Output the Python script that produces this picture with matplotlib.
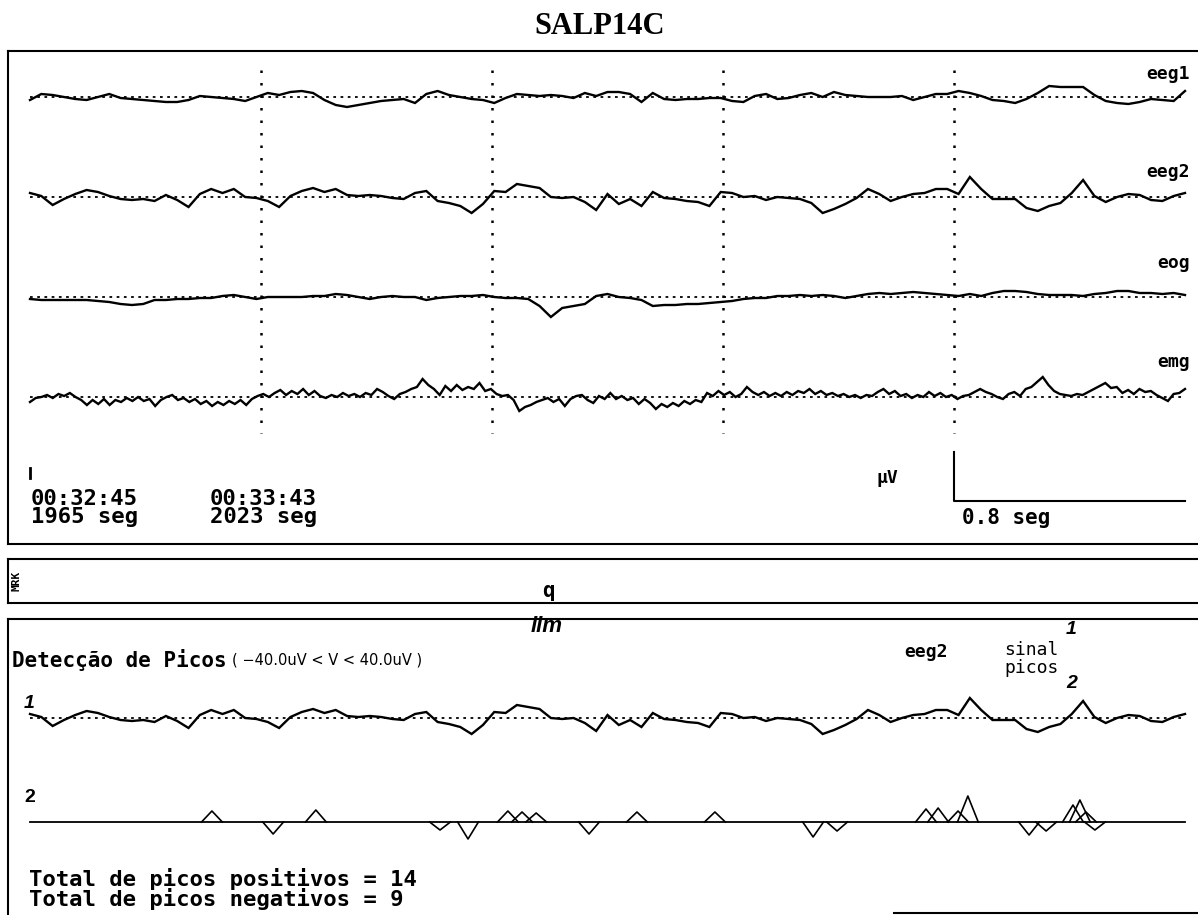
import matplotlib
matplotlib.use("Agg")
import matplotlib.pyplot as plt
import numpy as np

W, H = 1198, 915

# ---- data (amplitudes in uV, uniform sampling over the page) ----
eeg1 = [-3, 3, 2, 0, -2, -3, 0, 3, -1, -2, -3, -4, -5, -5, -3, 1, 0, -1, -2, -4,
        0, 4, 2, 5, 6, 4, -3, -8, -10, -8, -6, -4, -3, -2, -6, 3, 6, 2, 0, -2,
        -3, -6, -1, 3, 2, 1, 2, 1, -1, 4, 1, 5,
        5, 3, -5, 4, -2, -3, -2, -2, -1, -1, -4, -5, 1, 3, -2, -1, 2, 4, 0, 5,
        2, 1, 0, 0, 0, 1, -3, 0, 3, 3, 6, 4, 1, -3, -4, -6, -2, 4, 11, 10,
        10, 10, 2, -4, -6, -7, -5, -2, -3, -4, 6]
eeg2 = [4, 1, -8, -2, 3, 7, 5, 1, -2, -3, -2, -4, 2, -3, -10, 3, 8, 4, 8, 0,
        -1, -4, -10, 1, 6, 9, 5, 8, 2, 1, 2, 1, -1, -2, 4, 6, -4, -6, -9, -16,
        -7, 6, 5, 13, 11, 9, 0, -1, 0, -5, -13, 3,
        -7, -2, -9, 5, -1, -2, -4, -5, -9, 5, 4, 0, 1, -3, 0, -1, -2, -6, -16, -12,
        -7, -1, 8, 3, -4, 0, 3, 4, 8, 8, 3, 20, 8, -2, -2, -2, -11, -14, -9, -6,
        4, 17, 1, -5, 0, 3, 2, -3, -4, 1, 4]
eog = [-2, -3, -3, -3, -3, -3, -4, -5, -7, -8, -7, -3, -3, -2, -2, -1, -1, 1, 2, 0,
       -2, 0, 0, 0, 0, 1, 1, 3, 2, 0, -2, 0, 1, 0, 0, -3, -1, 0, 1, 1,
       2, 0, -1, -1, -2, -9, -20, -11, -9, -7, 1, 3,
       0, -1, -3, -9, -8, -8, -7, -7, -6, -5, -4, -2, -1, -1, 1, 1, 2, 1, 2, 1,
       -1, 1, 3, 4, 3, 4, 5, 4, 3, 2, 1, 3, 1, 4, 6, 6, 5, 3, 2, 2,
       2, 1, 3, 4, 6, 6, 4, 4, 3, 4, 2]
emg = [-5, -1, 0, 2, -1, 3, 1, 4, 0, -3, -8, -3, -7, -2, -8, -3, -5, -1, -4, 0,
       -4, -2, -9, -3, 0, 2, -3, -1, -5, -2, -7, -4, -9, -5, -8, -4, -7, -3, -8, -2,
       1, 3, 0, 4, 7, 2, 6, 3, 8, 2, 6, 1, -1, 2, 0, 4, 1, 3, 0, 4,
       2, 8, 5, 1, -2, 3, 5, 8, 10, 18, 12, 8, 2, 11, 6, 12, 7, 10, 8, 14,
       6, 8, 3, 1, 2, -3, -14, -10, -8, -5, -3, -1, -5, -2, -9, -2, 1, 2, -3, -6,
       1, -2, 4,
       -2, 1, -3, -1, -7, -2, -6, -12, -7, -10, -6, -9, -4, -7, -3, -5, 4, 1, 6, 2,
       5, 0, 3, 10, 5, 2, 5, 1, 4, 1, 5, 2, 6, 4, 8, 3, 6, 2, 4, 1,
       3, 0, 2, -1, 2, 1, 5, 8, 3, 6, 1, 3, -1, 2, 0, 5, 1, 4, 0, 2,
       -2, 1, 2, 5, 8, 5, 3, 0, -2, 3, 5, 1, 8, 10, 15, 20, 12, 6, 3, 2,
       1, 3, 2, 5, 8, 11, 14, 9, 10, 4, 7, 3, 8, 5, 6, 2, -1, -4, 3, 4, 8]
channel_names = ["eeg1", "eeg2", "eog", "emg"]

duration_s = 4.0
marker_times = [0.8, 1.6, 2.4, 3.2]
scale_bar_s = 0.8

# detected peaks on eeg2 (time in s, amplitude in uV)
pos_peak_t = [0.63, 0.99, 1.655, 1.704, 1.753, 2.102, 2.372,
              3.103, 3.145, 3.214, 3.248, 3.612, 3.636, 3.657]
pos_peak_amp = [11, 12, 11, 10, 9, 10, 10, 13, 14, 11, 26, 17, 22, 10]
neg_peak_t = [0.842, 1.42, 1.517, 1.936, 2.712, 2.795, 3.46, 3.519, 3.688]
neg_peak_amp = [-12, -8, -17, -12, -15, -9, -13, -9, -8]
lim_uv = 40.0

clock_labels = ["00:32:45", "00:33:43"]
second_labels = ["1965 seg", "2023 seg"]

# ---- layout ----
PX_PER_S = 288.75
T0_PX = 30
MONO = "DejaVu Sans Mono"

fig = plt.figure(figsize=(W / 100, H / 100), dpi=100)
fig.patch.set_facecolor("white")


def px_axes(x0, y0, x1, y1, spines=("left", "top", "bottom")):
    ax = fig.add_axes([x0 / W, 1 - y1 / H, (x1 - x0) / W, (y1 - y0) / H])
    ax.set_xticks([])
    ax.set_yticks([])
    ax.patch.set_alpha(0)
    for name, sp in ax.spines.items():
        sp.set_visible(name in spines)
        sp.set_linewidth(1.5)
    ax.set_xlim((x0 - T0_PX) / PX_PER_S, (x1 - T0_PX) / PX_PER_S)
    ax.set_ylim(y1 - y0, 0)
    return ax


def label(x, y, s, **kw):
    opts = dict(family=MONO, weight="bold", va="center", ha="left", fontsize=15)
    opts.update(kw)
    fig.text(x / W, 1 - y / H, s, **opts)


line_kw = dict(color="black", lw=1.7, solid_joinstyle="miter")
base_kw = dict(color="black", lw=1.3, linestyle=(0, (1.5, 2.5)))

# ---- top panel: four channels ----
top = px_axes(8, 51, 1198, 544)
offsets = [46, 146, 246, 346]
for name, sig, off in zip(channel_names, [eeg1, eeg2, eog, emg], offsets):
    sig = np.asarray(sig, dtype=float)
    t = np.linspace(0, duration_s, sig.size)
    top.plot([0, duration_s], [off, off], **base_kw)
    top.plot(t, off - sig, **line_kw)
for mt in marker_times:
    top.plot([mt, mt], [19, 382], color="black", lw=1.8, linestyle=(0, (1, 4)))

# small event tick and calibration bar
top.plot([0, 0], [417, 427], color="black", lw=2)
top.plot([duration_s - scale_bar_s, duration_s - scale_bar_s, duration_s],
         [401, 450, 450], color="black", lw=1.5)

for name, y in zip(channel_names, [74, 172, 263, 362]):
    label(1190, y, name, fontsize=13, ha="right")
for x, c, s in zip([31, 210], clock_labels, second_labels):
    label(x, 508, f"{c}\n{s}", fontsize=16, linespacing=0.85)
label(876, 478, "\u00b5V", fontsize=13)
label(962, 518, f"{scale_bar_s} seg", fontsize=15)

fig.text(600 / W, 1 - 26 / H, "SALP14C", family="Liberation Serif", weight="bold",
         fontsize=22, ha="center", va="center")

# ---- marker strip ----
mrk = px_axes(8, 559, 1198, 603)
label(17, 581, "MRK", fontsize=8, rotation=90, ha="center")
label(548, 591, "q", fontsize=15, ha="center")

# ---- bottom panel: peak detection on eeg2 ----
bot = px_axes(8, 619, 1198, 915, spines=("left", "top"))
sig = np.asarray(eeg2, dtype=float)
t = np.linspace(0, duration_s, sig.size)
off1, off2 = 99, 203
bot.plot([0, duration_s], [off1, off1], **base_kw)
bot.plot(t, off1 - sig, **line_kw)
bot.plot([0, duration_s], [off2, off2], color="black", lw=1.3)
hw = 0.036
for c, a in zip(pos_peak_t + neg_peak_t, pos_peak_amp + neg_peak_amp):
    bot.plot([c - hw, c, c + hw], [off2, off2 - a, off2], color="black", lw=1.2)
bot.plot([(894 - T0_PX) / PX_PER_S, (1198 - T0_PX) / PX_PER_S], [294, 294],
         color="black", lw=1.5)

label(531, 627, "lim", family="Liberation Sans", style="italic", fontsize=16)
label(12, 660, "Detec\u00e7\u00e3o de Picos", fontsize=15)
label(232, 660, f"( \u2212{lim_uv:.1f}uV < V < {lim_uv:.1f}uV )",
      family="DejaVu Sans", weight="normal", fontsize=10.5)
label(904, 652, "eeg2", fontsize=13)
label(1004, 650, "sinal", fontsize=13, weight="normal")
label(1004, 668, "picos", fontsize=13, weight="normal")
label(1066, 630, "1", family="Liberation Sans", style="italic", fontsize=14)
label(1066, 684, "2", family="Liberation Sans", style="italic", fontsize=14)
label(24, 704, "1", family="Liberation Sans", style="italic", fontsize=14)
label(24, 798, "2", family="Liberation Sans", fontsize=14)
label(29, 889, f"Total de picos positivos = {len(pos_peak_t)}\n"
               f"Total de picos negativos = {len(neg_peak_t)}",
      fontsize=16, linespacing=0.85)

fig.savefig("out.png", dpi=100, facecolor="white")
